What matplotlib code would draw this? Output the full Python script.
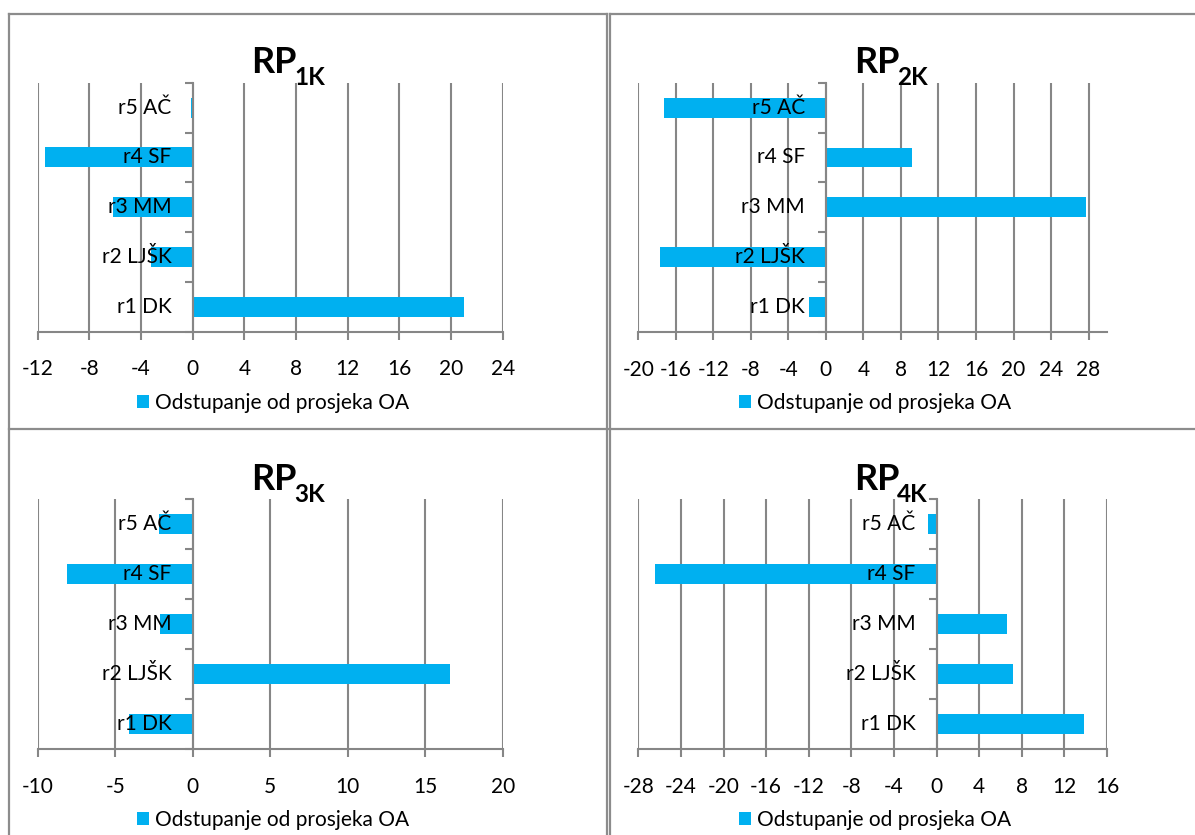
import numpy as np
import matplotlib.pyplot as plt
from matplotlib.lines import Line2D
from matplotlib import transforms

plt.rcParams['font.family'] = ['Lato', 'DejaVu Sans']

categories = ['r1 DK', 'r2 LJŠK', 'r3 MM', 'r4 SF', 'r5 AČ']
rp1 = [21.0, -3.2, -6.2, -11.4, -0.1]
rp2 = [-1.8, -17.7, 27.7, 9.2, -17.3]
rp3 = [-4.1, 16.6, -2.1, -8.1, -2.15]
rp4 = [13.8, 7.2, 6.6, -26.4, -0.8]
series = [rp1, rp2, rp3, rp4]
subs = ['1K', '2K', '3K', '4K']
xlims = [(-12, 24), (-20, 30), (-10, 20), (-28, 16)]
steps = [4, 4, 5, 4]
legend_label = 'Odstupanje od prosjeka OA'

blue = '#00B0F0'
grid = '#868686'
W, H = 1195, 835
fig = plt.figure(figsize=(W / 100, H / 100), dpi=100)

# plot areas in pixels: left, top, right, bottom
boxes = [(37.7, 82.7, 502.7, 331.7), (638.3, 82.7, 1107.3, 332),
         (37.7, 499, 502.7, 749), (638.3, 499, 1107, 749)]
# title: right edge of "RP", its baseline
title_pos = [(297, 73), (899.5, 73), (297, 490), (899.5, 490)]
legend_pos = [(273, 403), (875, 403), (273, 820), (875, 820)]

y = np.arange(len(categories))
for k in range(4):
    l, t, r, b = boxes[k]
    ax = fig.add_axes([l / W, 1 - b / H, (r - l) / W, (b - t) / H])
    ax.set_axisbelow(True)
    ax.barh(y, series[k], height=0.4, color=blue, label=legend_label, zorder=2)
    lo, hi = xlims[k]
    ax.set_xlim(lo, hi)
    ax.set_ylim(-0.5, 4.5)
    ax.set_xticks(np.arange(lo, hi + 0.01, steps[k]))
    ax.set_xticklabels([str(int(v)) for v in ax.get_xticks()], fontsize=15)
    ax.xaxis.grid(True, color=grid, lw=1.5)
    ax.tick_params(axis='x', length=6, width=1.5, color=grid, pad=14)
    ax.set_yticks([])
    ax.set_yticks(np.arange(-0.5, 4.6, 1), minor=True)
    ax.tick_params(axis='y', which='minor', length=6, width=1.5, color=grid)
    ax.spines['left'].set_position(('data', 0))
    for s in ['left', 'bottom']:
        ax.spines[s].set_color(grid)
        ax.spines[s].set_linewidth(1.5)
    ax.spines['top'].set_visible(False)
    ax.spines['right'].set_visible(False)
    off = transforms.offset_copy(ax.transData, fig=fig, x=-21, y=0, units='dots')
    for i, c in enumerate(categories):
        ax.text(0, i, c, ha='right', va='center', fontsize=15, transform=off, zorder=3)
    tx, ty = title_pos[k]
    fig.text(tx / W, 1 - ty / H, 'RP', ha='right', va='baseline',
             fontsize=26, fontweight='bold')
    fig.text((tx - 2.5) / W, 1 - (ty + 12) / H, subs[k], ha='left', va='baseline',
             fontsize=17.5, fontweight='bold')
    lx, ly = legend_pos[k]
    ax.legend(loc='center', bbox_to_anchor=(lx / W, 1 - ly / H), bbox_transform=fig.transFigure,
              frameon=False, fontsize=15, handlelength=0.6, handleheight=0.6,
              handletextpad=0.3, borderpad=0)

# panel borders
bc = '#8c8c8c'
segs = [((9, 606.5), (13.5, 13.5)), ((609.5, 1195), (13.5, 13.5)),
        ((9, 1195), (429, 429)), ((9, 9), (13.5, 835)),
        ((606.5, 606.5), (13.5, 835)), ((609.5, 609.5), (13.5, 835))]
for xs, ys in segs:
    fig.add_artist(Line2D([v / W for v in xs], [1 - v / H for v in ys], color=bc, lw=1.6,
                          transform=fig.transFigure))

fig.savefig('out.png', dpi=100)
